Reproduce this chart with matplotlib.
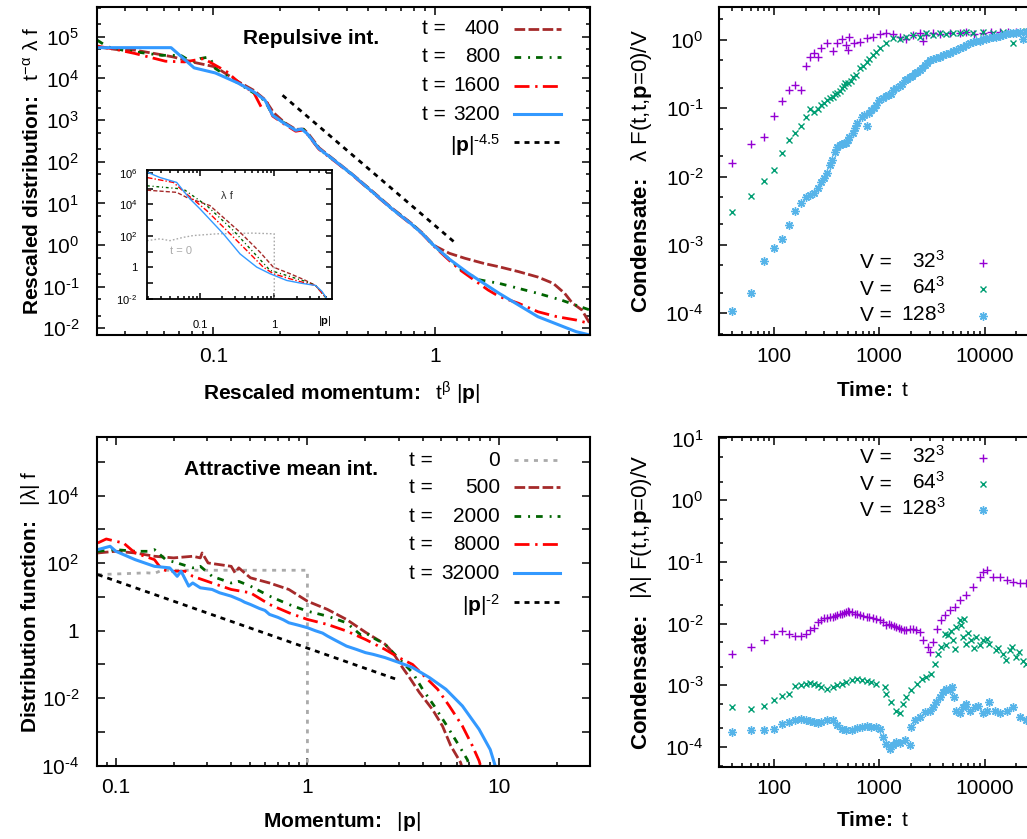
import matplotlib
matplotlib.use('Agg')
import matplotlib.pyplot as plt
from matplotlib.lines import Line2D
from matplotlib.ticker import FixedLocator, FixedFormatter, LogLocator, NullFormatter

plt.rcParams['font.family'] = ['Liberation Sans', 'DejaVu Sans']
plt.rcParams['mathtext.fontset'] = 'custom'
plt.rcParams['mathtext.rm'] = 'Liberation Sans'
plt.rcParams['mathtext.it'] = 'Liberation Sans:italic'
plt.rcParams['mathtext.bf'] = 'Liberation Sans:bold'
plt.rcParams['mathtext.default'] = 'regular'
plt.rcParams['lines.scale_dashes'] = False

HY = '\u2010'  # short hyphen used as minus sign, as in the original

# ---------------- data: repulsive (top left), rescaled ----------------
p400 = [0.030, 0.0362, 0.0442, 0.054, 0.0658, 0.080, 0.102, 0.130, 0.152, 0.171, 0.187, 0.209, 0.235,
        0.255, 0.268, 0.30, 0.35, 0.427, 0.521, 0.636, 0.776, 0.874, 0.984, 1.02, 1.16, 1.36, 1.66,
        1.94, 2.37, 2.90, 3.40, 3.83, 4.15, 4.58, 4.97]
f400 = [5.75e4, 5.0e4, 4.8e4, 4.0e4, 3.3e4, 2.5e4, 1.9e4, 8.3e3, 5.2e3, 3.1e3, 1.5e3, 880, 600,
        610, 470, 215, 112, 48, 19.5, 7.8, 3.4, 1.95, 1.0, 0.89, 0.63, 0.48, 0.36,
        0.30, 0.23, 0.17, 0.12, 0.069, 0.04, 0.0275, 0.013]
p800 = [0.030, 0.0334, 0.039, 0.0583, 0.0713, 0.080, 0.087, 0.096, 0.102, 0.13, 0.152, 0.171, 0.185,
        0.209, 0.235, 0.255, 0.265, 0.299, 0.35, 0.427, 0.521, 0.636, 0.776, 0.874, 0.984, 1.16,
        1.31, 1.59, 1.94, 2.90, 3.68, 4.97]
f800 = [8.3e4, 5.75e4, 4.8e4, 3.6e4, 3.6e4, 2.5e4, 3.0e4, 3.3e4, 1.74e4, 7.6e3, 4.5e3, 2.9e3, 1.3e3,
        850, 560, 600, 470, 205, 108, 47, 18.8, 7.5, 3.3, 1.9, 0.97, 0.45,
        0.25, 0.145, 0.12, 0.069, 0.048, 0.0275]
p1600 = [0.030, 0.0362, 0.0442, 0.0608, 0.0741, 0.0905, 0.115, 0.134, 0.152, 0.164, 0.175, 0.185,
         0.209, 0.235, 0.255, 0.265, 0.299, 0.35, 0.427, 0.521, 0.636, 0.776, 0.874, 0.984, 1.16,
         1.31, 1.73, 1.94, 2.37, 2.90, 3.53, 4.31, 4.97]
f1600 = [6.0e4, 5.0e4, 4.0e4, 2.6e4, 2.5e4, 3.0e4, 1.45e4, 7.0e3, 4.6e3, 2.1e3, 2.6e3, 1.25e3,
         800, 540, 580, 460, 200, 106, 46, 18.5, 7.4, 3.2, 1.85, 0.95, 0.42,
         0.24, 0.083, 0.058, 0.04, 0.025, 0.019, 0.0158, 0.013]
p3200 = [0.030, 0.0645, 0.0819, 0.102, 0.129, 0.152, 0.171, 0.185, 0.209, 0.235, 0.250, 0.265, 0.299,
         0.35, 0.427, 0.521, 0.636, 0.776, 0.874, 0.984, 1.15, 1.41, 1.94, 2.90, 4.31, 4.97]
f3200 = [5.5e4, 5.5e4, 1.8e4, 1.36e4, 7.8e3, 4.8e3, 3.0e3, 1.31e3, 830, 570, 610, 470, 207,
         109, 47, 18.8, 7.5, 3.27, 1.88, 0.98, 0.47, 0.21, 0.069, 0.019, 0.0083, 6.9e-3]
p_ref45 = [0.205, 1.22]
f_ref45 = [3.96e3, 1.17]

# inset: unscaled lambda f
ip0 = [0.0193, 0.0289, 0.0394, 0.0596, 0.081, 0.168, 0.5, 1.0, 1.0]
if0 = [50, 65, 50, 81, 105, 135, 150, 135, 1e-3]
ip400 = [0.0193, 0.0485, 0.066, 0.136, 0.346, 0.643, 0.97, 1.63, 2.5, 3.6, 5.1]
if400 = [7.9e4, 5.75e4, 2.75e4, 8.3e3, 170, 9.3, 1.05, 0.40, 0.17, 0.072, 0.0105]
ip800 = [0.0193, 0.0596, 0.123, 0.281, 0.522, 0.877, 1.47, 2.5, 3.6, 5.1]
if800 = [1.5e5, 9.3e4, 8.3e3, 220, 9.3, 0.65, 0.31, 0.14, 0.072, 0.0105]
ip1600 = [0.0193, 0.0437, 0.066, 0.123, 0.229, 0.427, 0.71, 0.97, 1.63, 2.5, 3.6, 5.1]
if1600 = [5.0e5, 2.45e5, 4.5e4, 4.0e3, 220, 11.7, 1.05, 0.40, 0.19, 0.11, 0.072, 0.0105]
ip3200 = [0.0193, 0.0289, 0.0485, 0.0596, 0.0733, 0.1, 0.206, 0.346, 0.58, 0.877, 1.47, 2.3, 3.6, 4.4, 5.1]
if3200 = [1.1e6, 5.0e5, 2.45e5, 7.2e4, 2.2e4, 5.1e3, 135, 7.2, 1.05, 0.40, 0.15, 0.10, 0.072, 0.03, 0.0105]

# ---------------- data: attractive (bottom left) ----------------
q0 = [0.0805, 0.115, 0.145, 0.159, 0.174, 0.252, 0.40, 0.634, 1.0, 1.0]
g0 = [46, 49.5, 52, 50, 62, 62, 62, 62, 62, 1e-5]
q_ref2 = [0.0805, 2.91]
g_ref2 = [46, 0.0365]
q500 = [0.0805, 0.100, 0.126, 0.159, 0.200, 0.252, 0.276, 0.282, 0.303, 0.40, 0.419, 0.438, 0.504,
        0.634, 0.80, 1.0, 1.27, 1.60, 2.01, 2.54, 2.8, 3.14, 3.4, 3.84, 4.5, 5.07, 5.6, 6.3, 6.6]
g500 = [202, 226, 202, 161, 144, 161, 144, 202, 102, 81, 52, 73, 37,
        26, 16.7, 7.5, 4.3, 2.16, 0.9, 0.40, 0.22, 0.08, 0.042, 0.0148, 4.6e-3, 1.5e-3, 3.9e-4, 1.25e-4, 5e-5]
q2000 = [0.0805, 0.100, 0.126, 0.1517, 0.159, 0.182, 0.209, 0.252, 0.276, 0.318, 0.40, 0.438, 0.504,
         0.634, 0.80, 1.0, 1.27, 1.60, 1.9, 2.01, 2.2, 2.54, 3.0, 3.54, 3.99, 4.59, 5.28, 6.19, 6.84, 7.3]
g2000 = [226, 253, 226, 226, 253, 128, 102, 73, 81, 41, 26, 29, 21,
         10.6, 6.0, 3.8, 2.71, 1.72, 0.75, 0.87, 0.62, 0.40, 0.15, 0.057, 0.0185, 5.9e-3, 1.7e-3, 3.9e-4,
         1.5e-4, 5e-5]
q8000 = [0.0805, 0.0891, 0.100, 0.1096, 0.1148, 0.126, 0.159, 0.174, 0.191, 0.230, 0.252, 0.318, 0.40,
         0.504, 0.634, 0.80, 1.0, 1.27, 1.60, 2.01, 2.54, 3.0, 3.54, 4.0, 4.78, 5.5, 6.44, 7.26, 7.87, 8.3]
g8000 = [399, 524, 447, 399, 318, 202, 128, 65, 58, 58, 41, 26, 16.7,
         13.3, 6.0, 3.4, 2.16, 1.54, 0.98, 0.55, 0.28, 0.16, 0.10, 0.05, 0.0185, 5.9e-3, 1.5e-3, 3.9e-4,
         1.4e-4, 5e-5]
q32000 = [0.0805, 0.0933, 0.100, 0.126, 0.159, 0.191, 0.209, 0.219, 0.240, 0.252, 0.276, 0.318, 0.348,
          0.40, 0.45, 0.47, 0.504, 0.56, 0.60, 0.634, 0.70, 0.75, 0.80, 0.90, 1.0, 1.1, 1.2, 1.27,
          1.4, 1.60, 1.8, 2.01, 2.2, 2.54, 3.0, 3.54, 4.33, 5.28, 6.44, 7.87, 9.0, 9.5, 10.0]
g32000 = [253, 318, 226, 128, 81, 73, 41, 58, 21, 26, 18.7, 16.7, 13.3,
          10.6, 8.0, 7.0, 6.0, 4.6, 4.0, 3.04, 2.5, 2.1, 1.72, 1.45, 1.23, 1.0, 0.85, 0.70,
          0.52, 0.35, 0.28, 0.224, 0.20, 0.16, 0.115, 0.081, 0.041, 0.0185, 5.9e-3, 1.2e-3, 3e-4, 1.1e-4, 4e-5]

# ---------------- data: condensate, repulsive (top right) ----------------
tA32 = [40, 60, 80, 100, 120, 140, 160, 180, 200, 220, 240, 260, 280, 320, 360, 400, 440, 480, 500, 520,
        580, 653, 756, 875, 1010, 1170, 1350, 1563, 1810, 2090, 2420, 2600, 2800, 3240, 3740, 4660,
        5800, 6700, 8000, 9640, 11500, 13900, 16500, 19900, 24800]
cA32 = [0.016, 0.030, 0.038, 0.076, 0.128, 0.185, 0.22, 0.185, 0.42, 0.56, 0.65, 0.57, 0.75, 0.89,
        0.68, 0.91, 1.02, 0.85, 0.70, 1.09, 0.89, 0.93, 1.05, 1.12, 1.22, 1.28, 1.22, 1.12, 1.02, 1.18,
        1.25, 0.98, 1.18, 1.25, 1.22, 1.28, 1.25, 1.30, 1.24, 1.28, 1.31, 1.32, 1.29, 1.30, 1.32]
tA64 = [40, 60, 80, 100, 120, 140, 160, 180, 200, 220, 240, 260, 280, 300, 320, 340, 360, 380, 400,
        420, 440, 460, 471, 507, 540, 565, 600, 653, 700, 756, 800, 875, 940, 1010, 1170, 1350, 1563,
        1810, 2090, 2420, 2800, 3240, 3740, 4330, 5000, 5800, 6700, 7750, 9640, 12000, 14900, 18600,
        21500, 24800]
cA64 = [3.0e-3, 5.2e-3, 8.6e-3, 0.0124, 0.022, 0.034, 0.044, 0.055, 0.074, 0.097, 0.089, 0.097, 0.112,
        0.12, 0.132, 0.14, 0.148, 0.16, 0.166, 0.18, 0.196, 0.21, 0.232, 0.237, 0.25, 0.29, 0.31, 0.385,
        0.42, 0.48, 0.52, 0.60, 0.66, 0.755, 0.89, 1.06, 1.02, 1.09, 1.18, 1.12, 1.25, 1.18, 1.25, 1.22,
        1.28, 1.25, 1.30, 1.25, 1.32, 1.25, 1.32, 0.91, 1.30, 1.37]
tA128 = [40, 60, 80, 100, 120, 140, 160, 180, 200, 220, 240, 260, 280, 300, 320, 340, 357, 379, 398,
         420, 440, 460, 480, 500, 520, 560, 586, 620, 678, 720, 756, 800, 843, 900, 940, 1000, 1087,
         1150, 1213, 1280, 1350, 1450, 1563, 1650, 1745, 1850, 1946, 2050, 2170, 2300, 2420, 2550, 2700,
         2850, 3010, 3200, 3480, 3750, 4030, 4300, 4660, 5000, 5390, 5800, 6230, 6700, 7210, 7750, 8340,
         9000, 9640, 10300, 11100, 12000, 12900, 13900, 14900, 16000, 17300, 18600, 19900, 21500, 23000,
         24800]
cA128 = [1.09e-4, 2.0e-4, 5.9e-4, 8.9e-4, 1.23e-3, 1.94e-3, 3.1e-3, 4.15e-3, 5.1e-3, 5.4e-3, 5.8e-3,
         6.7e-3, 8.4e-3, 9.5e-3, 0.0112, 0.0148, 0.0175, 0.0232, 0.0274, 0.029, 0.030, 0.031, 0.0314,
         0.034, 0.0384, 0.043, 0.052, 0.06, 0.075, 0.08, 0.055, 0.085, 0.094, 0.10, 0.112, 0.13, 0.14,
         0.15, 0.157, 0.16, 0.185, 0.20, 0.212, 0.23, 0.26, 0.27, 0.284, 0.30, 0.325, 0.34, 0.364, 0.39,
         0.43, 0.46, 0.50, 0.52, 0.54, 0.57, 0.60, 0.63, 0.65, 0.68, 0.71, 0.75, 0.80, 0.85, 0.89, 0.92,
         0.95, 0.98, 1.02, 1.04, 1.06, 1.09, 1.12, 1.15, 1.18, 1.2, 1.25, 1.25, 1.28, 1.3, 1.02, 1.32]

# ---------------- data: condensate, attractive (bottom right) ----------------
tB32 = [40, 60, 80, 100, 120, 140, 160, 180, 200, 220, 240, 260, 280, 300, 320, 340, 360, 380, 400,
        420, 440, 460, 480, 500, 520, 550, 586, 620, 653, 700, 756, 800, 875, 940, 1010, 1090, 1170,
        1230, 1300, 1380, 1455, 1540, 1623, 1700, 1810, 1950, 2090, 2250, 2420, 2600, 2900, 3010, 3240,
        3500, 3890, 4180, 4660, 5200, 5800, 6700, 7750, 8980, 9640, 10400, 12000, 13900, 16100, 18600,
        21500, 24800]
cB32 = [3.26e-3, 4.19e-3, 5.5e-3, 6.9e-3, 7.5e-3, 6.9e-3, 6.2e-3, 6.2e-3, 6.9e-3, 7.8e-3, 8.6e-3,
        0.0106, 0.0116, 0.0122, 0.0125, 0.0127, 0.0128, 0.0133, 0.0137, 0.0141, 0.0145, 0.015, 0.0155,
        0.0158, 0.0155, 0.0152, 0.0145, 0.0141, 0.0137, 0.0133, 0.0128, 0.0126, 0.0121, 0.0118, 0.0113,
        0.0105, 9.4e-3, 9.8e-3, 9.4e-3, 9.2e-3, 8.8e-3, 8.6e-3, 8.3e-3, 8.0e-3, 7.8e-3, 8.1e-3, 8.3e-3,
        7.8e-3, 7.3e-3, 5.4e-3, 4.19e-3, 3.5e-3, 5.0e-3, 8.3e-3, 0.0113, 0.0137, 0.0164, 0.0186, 0.0239,
        0.0288, 0.039, 0.057, 0.069, 0.073, 0.057, 0.057, 0.050, 0.047, 0.045, 0.045]
tB64 = [40, 60, 80, 100, 120, 140, 160, 180, 200, 220, 240, 260, 280, 320, 360, 400, 440, 480, 545,
        608, 678, 756, 843, 940, 1128, 1170, 1300, 1455, 1563, 1683, 1810, 2020, 2254, 2514, 2800, 3125,
        3360, 3610, 3890, 4180, 4300, 4490, 4800, 5000, 5200, 5390, 5800, 6000, 6240, 6400, 6700, 7000,
        7480, 8000, 8340, 9000, 9640, 10500, 11100, 12900, 13500, 14900, 16000, 17300, 18000, 19900,
        21000, 23100, 24800]
cB64 = [4.45e-4, 4.2e-4, 4.56e-4, 5.7e-4, 6.6e-4, 7.3e-4, 9.6e-4, 1.0e-3, 1.06e-3, 1.09e-3, 1.06e-3,
        1.0e-3, 9.4e-4, 8.8e-4, 9.4e-4, 1.0e-3, 1.06e-3, 1.13e-3, 1.2e-3, 1.28e-3, 1.2e-3, 1.18e-3,
        1.13e-3, 1.06e-3, 9.4e-4, 7.3e-4, 5.4e-4, 3.9e-4, 3.56e-4, 5.0e-4, 6.5e-4, 8.3e-4, 1.06e-3,
        1.28e-3, 1.36e-3, 1.55e-3, 2.24e-3, 3.26e-3, 4.2e-3, 6.9e-3, 4.5e-3, 6.5e-3, 7.5e-3, 5.4e-3,
        3.8e-3, 8.8e-3, 0.0113, 9.5e-3, 6.1e-3, 0.012, 4.7e-3, 7.0e-3, 5.4e-3, 4.0e-3, 6.1e-3, 4.5e-3,
        5.4e-3, 5.6e-3, 4.7e-3, 3.7e-3, 4.0e-3, 3.26e-3, 2.6e-3, 3.7e-3, 4.2e-3, 2.9e-3, 3.4e-3, 2.5e-3,
        2.24e-3]
tB128 = [40, 60, 80, 100, 120, 140, 160, 180, 200, 220, 240, 260, 280, 320, 360, 400, 440, 480, 545,
         608, 678, 756, 843, 940, 1020, 1087, 1170, 1260, 1350, 1455, 1563, 1745, 1946, 2020, 2170, 2420,
         2700, 3010, 3240, 3480, 3740, 4030, 4330, 4660, 4940, 5080, 5390, 5800, 6230, 6700, 7210, 8040,
         8650, 9640, 10400, 11100, 12400, 13900, 16100, 18600, 21500, 24800]
cB128 = [1.75e-4, 1.91e-4, 1.91e-4, 1.98e-4, 2.33e-4, 2.54e-4, 2.7e-4, 2.81e-4, 2.78e-4, 2.64e-4,
         2.54e-4, 2.45e-4, 2.54e-4, 2.78e-4, 2.7e-4, 2.25e-4, 1.98e-4, 1.91e-4, 1.91e-4, 2.06e-4,
         2.11e-4, 2.16e-4, 2.11e-4, 2.11e-4, 1.98e-4, 1.45e-4, 1.13e-4, 9.4e-5, 1.06e-4, 1.2e-4, 1.16e-4,
         1.28e-4, 1.06e-4, 2.11e-4, 2.7e-4, 3.06e-4, 3.7e-4, 3.9e-4, 4.45e-4, 5.4e-4, 6.5e-4, 7.8e-4,
         8.8e-4, 8.3e-4, 9.4e-4, 6.5e-4, 3.9e-4, 3.5e-4, 4.45e-4, 5.0e-4, 3.9e-4, 4.45e-4, 4.7e-4,
         3.5e-4, 3.9e-4, 5.4e-4, 3.9e-4, 3.5e-4, 3.9e-4, 4.45e-4, 3.06e-4, 2.7e-4]

# ---------------- styling ----------------
W, H = 1027, 839
FS = 15
BROWN, DGREEN, RED, BLUE, GRAY = '#A52A2A', '#006400', '#FF0000', '#3399FF', '#AAAAAA'
PURPLE, TEAL, SKY = '#9400D3', '#009E73', '#56B4E9'
DASH = {'brown': (7.7, 2.4), 'green': (4.8, 5, 1.4, 4.3), 'red': (10.8, 4.1, 1.7, 3.8),
        'black': (3.6, 3.6), 'gray': (2.9, 4.1)}

fig = plt.figure(figsize=(W / 100, H / 100), dpi=100)


def box(l, t, r, b):
    return [l / W, 1 - b / H, (r - l) / W, (b - t) / H]


def pw(e, one=False):
    if one and e == 0:
        return '1'
    s = str(e).replace('-', HY)
    return r'$10^{%s}$' % s


def frame(ax, xlim, ylim, fs=FS, maj=6, mnr=3, lw=1.5):
    ax.set_xscale('log')
    ax.set_yscale('log')
    ax.set_xlim(*xlim)
    ax.set_ylim(*ylim)
    for s in ax.spines.values():
        s.set_linewidth(lw)
    ax.tick_params(which='both', direction='in', top=True, right=True, width=1.1, labelsize=fs)
    ax.tick_params(which='major', length=maj)
    ax.tick_params(which='minor', length=mnr)
    ax.xaxis.set_minor_locator(LogLocator(base=10, subs=range(2, 10), numticks=60))
    ax.xaxis.set_minor_formatter(NullFormatter())
    ax.yaxis.set_minor_formatter(NullFormatter())


def set_ticks(axis, vals, labels):
    axis.set_major_locator(FixedLocator(vals))
    axis.set_major_formatter(FixedFormatter(labels))


def fline(x0, x1, y, **kw):
    fig.add_artist(Line2D([x0 / W, x1 / W], [1 - y / H] * 2, transform=fig.transFigure, **kw))


def fmark(x, y, **kw):
    fig.add_artist(Line2D([x / W], [1 - y / H], transform=fig.transFigure, linestyle='none', **kw))


def ftext(x, y, s, **kw):
    fig.text(x / W, 1 - y / H, s, fontsize=kw.pop('fontsize', FS), **kw)


ax1 = fig.add_axes(box(97.3, 6.7, 590.4, 335))
ax2 = fig.add_axes(box(718.8, 7.3, 1035, 335))
ax3 = fig.add_axes(box(97.3, 437.3, 590.4, 765.7))
ax4 = fig.add_axes(box(718.8, 437.3, 1035, 766.7))
axi = fig.add_axes(box(147, 170, 331.5, 299))

lw = 2.0
sty = dict(dash_capstyle='butt', solid_capstyle='butt')

# ---- top left ----
frame(ax1, (0.03, 5), (6.9e-3, 5.3e5))
set_ticks(ax1.xaxis, [0.1, 1], ['0.1', '1'])
set_ticks(ax1.yaxis, [10.0 ** e for e in range(-2, 6)], [pw(e) for e in range(-2, 6)])
ax1.yaxis.set_minor_locator(LogLocator(base=10, subs=(2, 5), numticks=60))
ax1.tick_params(axis='x', pad=9)
ax1.tick_params(axis='y', pad=13)
ax1.plot(p400, f400, color=BROWN, lw=lw, dashes=DASH['brown'], **sty)
ax1.plot(p800, f800, color=DGREEN, lw=lw, dashes=DASH['green'], **sty)
ax1.plot(p1600, f1600, color=RED, lw=lw, dashes=DASH['red'], **sty)
ax1.plot(p3200, f3200, color=BLUE, lw=2.2)
ax1.plot(p_ref45, f_ref45, color='black', lw=lw, dashes=DASH['black'], **sty)
ax1.set_xlabel(r'$\mathbf{Rescaled\ momentum\!:}$  t$^{β}$ |$\mathbf{p}$|', fontsize=FS)
ax1.set_ylabel(r'$\mathbf{Rescaled\ distribution\!:}$  t$^{-α}$ λ f', fontsize=FS)
ax1.xaxis.set_label_coords(0.496, -0.177)
ax1.xaxis.label.set_va('center')
ax1.yaxis.set_label_coords(-0.13, 0.5)
ax1.yaxis.label.set_va('center')
ftext(311.5, 38.3, 'Repulsive int.', fontweight='bold', ha='center', va='center')

rows1 = [(29, '400', BROWN, DASH['brown']), (56.7, '800', DGREEN, DASH['green']),
         (85.7, '1600', RED, DASH['red']), (114.3, '3200', BLUE, None)]
for y, num, col, d in rows1:
    ftext(421.7, y, 't =', ha='left', va='center')
    ftext(500, y, num, ha='right', va='center')
    if d is None:
        fline(514, 561, y, color=col, lw=2.2)
    else:
        fline(514, 561, y, color=col, lw=lw, dashes=d, **sty)
ftext(500, 145, r'|$\mathbf{p}$|$^{' + HY + '4.5}$', ha='right', va='center')
fline(514, 561, 142.3, color='black', lw=lw, dashes=DASH['black'], **sty)

# ---- inset ----
frame(axi, (0.0193, 5.9), (1e-2, 1.5e6), fs=8, maj=4, mnr=2, lw=1.3)
set_ticks(axi.xaxis, [0.1, 1], ['0.1', '1'])
set_ticks(axi.yaxis, [1e-2, 1, 1e2, 1e4, 1e6], [pw(-2), '1', pw(2), pw(4), pw(6)])
axi.yaxis.set_minor_locator(FixedLocator([1e-1, 10, 1e3, 1e5]))
axi.tick_params(axis='y', which='minor', length=4)
axi.tick_params(axis='x', pad=15)
axi.tick_params(axis='y', pad=7)
ilw = 1.0
axi.plot(ip0, if0, color=GRAY, lw=ilw, dashes=(1.2, 1.5))
axi.plot(ip400, if400, color=BROWN, lw=ilw, dashes=(3, 1.5))
axi.plot(ip800, if800, color=DGREEN, lw=ilw, dashes=(2, 2, 0.8, 2))
axi.plot(ip1600, if1600, color=RED, lw=ilw, dashes=(4, 1.5, 1, 1.5))
axi.plot(ip3200, if3200, color=BLUE, lw=ilw)
axi.text(0.231, 3.5e4, 'λ f', fontsize=8, ha='center', va='center', color='#333333')
axi.text(0.055, 11.7, 't = 0', fontsize=8, ha='center', va='center', color=GRAY)
ftext(325, 321, r'|$\mathbf{p}$|', fontsize=8, ha='center', va='center')

# ---- bottom left ----
frame(ax3, (0.08, 30), (1e-4, 5.4e5))
set_ticks(ax3.xaxis, [0.1, 1, 10], ['0.1', '1', '10'])
set_ticks(ax3.yaxis, [1e-4, 1e-2, 1, 1e2, 1e4], [pw(e, one=True) for e in (-4, -2, 0, 2, 4)])
ax3.yaxis.set_minor_locator(FixedLocator([1e-3, 1e-1, 10, 1e3, 1e5]))
ax3.tick_params(axis='y', which='minor', length=6)
ax3.tick_params(axis='x', pad=9)
ax3.tick_params(axis='y', pad=13)
ax3.plot(q0, g0, color=GRAY, lw=lw, dashes=DASH['gray'], **sty)
ax3.plot(q500, g500, color=BROWN, lw=lw, dashes=DASH['brown'], **sty)
ax3.plot(q2000, g2000, color=DGREEN, lw=lw, dashes=DASH['green'], **sty)
ax3.plot(q8000, g8000, color=RED, lw=lw, dashes=DASH['red'], **sty)
ax3.plot(q32000, g32000, color=BLUE, lw=2.2)
ax3.plot(q_ref2, g_ref2, color='black', lw=lw, dashes=DASH['black'], **sty)
ax3.set_xlabel(r'$\mathbf{Momentum\!:}$  |$\mathbf{p}$|', fontsize=FS)
ax3.set_ylabel(r'$\mathbf{Distribution\ function\!:}$  |λ| f', fontsize=FS)
ax3.xaxis.set_label_coords(0.496, -0.171)
ax3.xaxis.label.set_va('center')
ax3.yaxis.set_label_coords(-0.135, 0.5)
ax3.yaxis.label.set_va('center')
ftext(280.8, 469.3, 'Attractive mean int.', fontweight='bold', ha='center', va='center')

rows3 = [(460, '0', GRAY, DASH['gray']), (487.3, '500', BROWN, DASH['brown']),
         (516, '2000', DGREEN, DASH['green']), (544.3, '8000', RED, DASH['red']),
         (573.3, '32000', BLUE, None)]
for y, num, col, d in rows3:
    ftext(409, y, 't =', ha='left', va='center')
    ftext(500, y, num, ha='right', va='center')
    if d is None:
        fline(514, 560, y, color=col, lw=2.2)
    else:
        fline(514, 560, y, color=col, lw=lw, dashes=d, **sty)
ftext(500, 605, r'|$\mathbf{p}$|$^{' + HY + '2}$', ha='right', va='center')
fline(514, 560, 602.3, color='black', lw=lw, dashes=DASH['black'], **sty)

# ---- condensate panels ----
mk = {
    '+': dict(marker='+', ms=6, mew=1.0),
    'x': dict(marker='x', ms=5, mew=1.0),
    '*': dict(marker=(8, 2, 0), ms=6, mew=1.0),
}
for ax, ylim, exps, series, leg_rows, ylab, xl_y in [
        (ax2, (4.8e-5, 3.0), range(-4, 1),
         [(tA32, cA32), (tA64, cA64), (tA128, cA128)], (262.7, 289.3, 315.7),
         r'$\mathbf{Condensate\!:}$  λ F(t,t,$\mathbf{p}$=0)/V', -0.168),
        (ax4, (4.8e-5, 10.4), range(-4, 2),
         [(tB32, cB32), (tB64, cB64), (tB128, cB128)], (457.7, 484, 510),
         r'$\mathbf{Condensate\!:}$  |λ| F(t,t,$\mathbf{p}$=0)/V', -0.162)]:
    frame(ax, (30, 30000), ylim)
    set_ticks(ax.xaxis, [100, 1000, 10000], ['100', '1000', '10000'])
    set_ticks(ax.yaxis, [10.0 ** e for e in exps], [pw(e) for e in exps])
    ax.yaxis.set_minor_locator(LogLocator(base=10, subs=(2, 5), numticks=60))
    ax.tick_params(axis='x', pad=9)
    ax.tick_params(axis='y', pad=11)
    for (t, c), col, m in zip(series, (PURPLE, TEAL, SKY), ('+', 'x', '*')):
        ax.plot(t, c, linestyle='none', color=col, **mk[m])
    ax.set_xlabel(r'$\mathbf{Time\!:}$ t', fontsize=FS)
    ax.set_ylabel(ylab, fontsize=16)
    ax.xaxis.set_label_coords(0.488, xl_y)
    ax.xaxis.label.set_va('center')
    ax.yaxis.set_label_coords(-0.245, 0.5)
    ax.yaxis.label.set_va('center')
    for y, num, col, m in zip(leg_rows, ('32', '64', '128'), (PURPLE, TEAL, SKY), ('+', 'x', '*')):
        ftext(860, y, 'V =', ha='left', va='center')
        ftext(945, y - 2, num + '$^{3}$', ha='right', va='center')
        fmark(982.5, y, color=col, **mk[m])

fig.savefig('out.png', dpi=100)
